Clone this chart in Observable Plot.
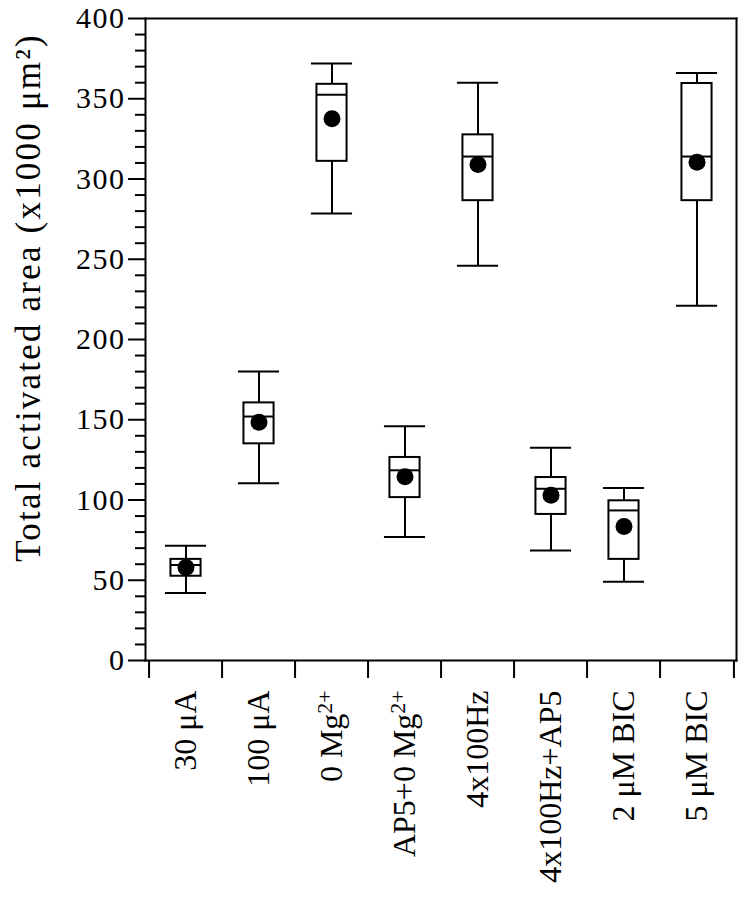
<!DOCTYPE html>
<html><head><meta charset="utf-8">
<script src="https://cdn.jsdelivr.net/npm/d3@7"></script>
<script src="https://cdn.jsdelivr.net/npm/@observablehq/plot@0.6"></script>
<style>body{margin:0;background:#fff}</style>
</head><body><div id="chart"></div>
<script>
const categories = ["30 μA", "100 μA", "0 Mg2+", "AP5+0 Mg2+", "4x100Hz", "4x100Hz+AP5", "2 μM BIC", "5 μM BIC"];
const whiskerLow  = [42, 110.5, 278.5, 77, 246, 68.5, 49, 221];
const q1          = [52.5, 135, 311, 101.5, 286.5, 91, 63, 286.5];
const median      = [59.5, 152, 352.5, 118.5, 314, 107, 93.5, 314];
const q3          = [63, 160.5, 359, 126.5, 327.5, 114, 99.5, 359.5];
const whiskerHigh = [71.5, 180, 372, 146, 360, 132.5, 107.5, 366];
const mean        = [58, 148.5, 337.5, 114.5, 309, 103, 83.5, 310.5];
const yTicks = [0, 50, 100, 150, 200, 250, 300, 350, 400];
const yMinorTicks = [10,20,30,40,60,70,80,90,110,120,130,140,160,170,180,190,210,220,230,240,260,270,280,290,310,320,330,340,360,370,380,390];
const yLabel = "Total activated area (x1000 μm²)";

const W = 746, H = 900, mL = 145, mR = 10, mT = 18, mB = 240;
const bw = (W - mL - mR) / categories.length;
const boxInset = (bw - 31) / 2;
const capInset = (bw - 42) / 2;

const rows = categories.map((c, i) => ({
  c, lo: whiskerLow[i], q1: q1[i], med: median[i], q3: q3[i], hi: whiskerHigh[i], mean: mean[i]
}));

const plot = Plot.plot({
  width: W, height: H,
  marginLeft: mL, marginRight: mR, marginTop: mT, marginBottom: mB,
  style: {fontFamily: '"Liberation Serif", "Times New Roman", serif', color: "black", background: "white"},
  x: {type: "band", domain: categories, padding: 0},
  y: {domain: [0, 400]},
  marks: [
    Plot.frame({anchor: "top", strokeWidth: 2}),
    Plot.frame({anchor: "right", strokeWidth: 2}),
    Plot.frame({anchor: "bottom", strokeWidth: 2}),
    Plot.frame({anchor: "left", strokeWidth: 2}),
    Plot.axisY(yMinorTicks, {tickSize: 10, text: null, label: null, strokeWidth: 2}),
    Plot.axisY(yTicks, {tickSize: 17, tickPadding: 3, fontSize: 30, strokeWidth: 2, label: null}),
    Plot.text([yLabel], {text: d => d, frameAnchor: "left", rotate: -90, lineAnchor: "bottom",
      textAnchor: "middle", dx: -106, dy: -42, fontSize: 35}),
    Plot.axisX({tickSize: 0, tickPadding: 30, tickRotate: -90, fontSize: 32, label: null}),
    Plot.ruleX(categories, {x: d => d, y1: 0, y2: 0, dx: -bw / 2, insetBottom: -18, strokeWidth: 2}),
    Plot.ruleX(categories.slice(-1), {x: d => d, y1: 0, y2: 0, dx: bw / 2, insetBottom: -18, strokeWidth: 2}),
    Plot.ruleX(rows, {x: "c", y1: "lo", y2: "q1", strokeWidth: 2}),
    Plot.ruleX(rows, {x: "c", y1: "q3", y2: "hi", strokeWidth: 2}),
    Plot.barY(rows, {x: "c", y1: "q1", y2: "q3", fill: "white", stroke: "black", strokeWidth: 2, insetLeft: boxInset, insetRight: boxInset}),
    Plot.tickY(rows, {x: "c", y: "med", strokeWidth: 2, insetLeft: boxInset, insetRight: boxInset}),
    Plot.tickY(rows, {x: "c", y: "lo", strokeWidth: 2, insetLeft: capInset, insetRight: capInset}),
    Plot.tickY(rows, {x: "c", y: "hi", strokeWidth: 2, insetLeft: capInset, insetRight: capInset}),
    Plot.dot(rows, {x: "c", y: "mean", r: 8.5, fill: "black"})
  ]
});

// Letter spacing (wider type like the reference)
const spacing = {"y-axis tick label": "1.5px", "text": "2.2px"};
plot.querySelectorAll("g[aria-label]").forEach(g => {
  const s = spacing[g.getAttribute("aria-label")];
  if (s) g.setAttribute("letter-spacing", s);
});

// Render "Mg2+" with a raised, smaller "2+"
plot.querySelectorAll("text").forEach(t => {
  const s = t.textContent;
  if (/Mg2\+$/.test(s) && t.children.length === 0) {
    const ns = "http://www.w3.org/2000/svg";
    t.textContent = "";
    const a = document.createElementNS(ns, "tspan");
    a.textContent = s.slice(0, -2);
    const b = document.createElementNS(ns, "tspan");
    b.textContent = "2+";
    b.setAttribute("dy", "-0.45em");
    b.setAttribute("font-size", "0.68em");
    t.appendChild(a); t.appendChild(b);
  }
});

document.getElementById("chart").appendChild(plot);
</script>
</body></html>
